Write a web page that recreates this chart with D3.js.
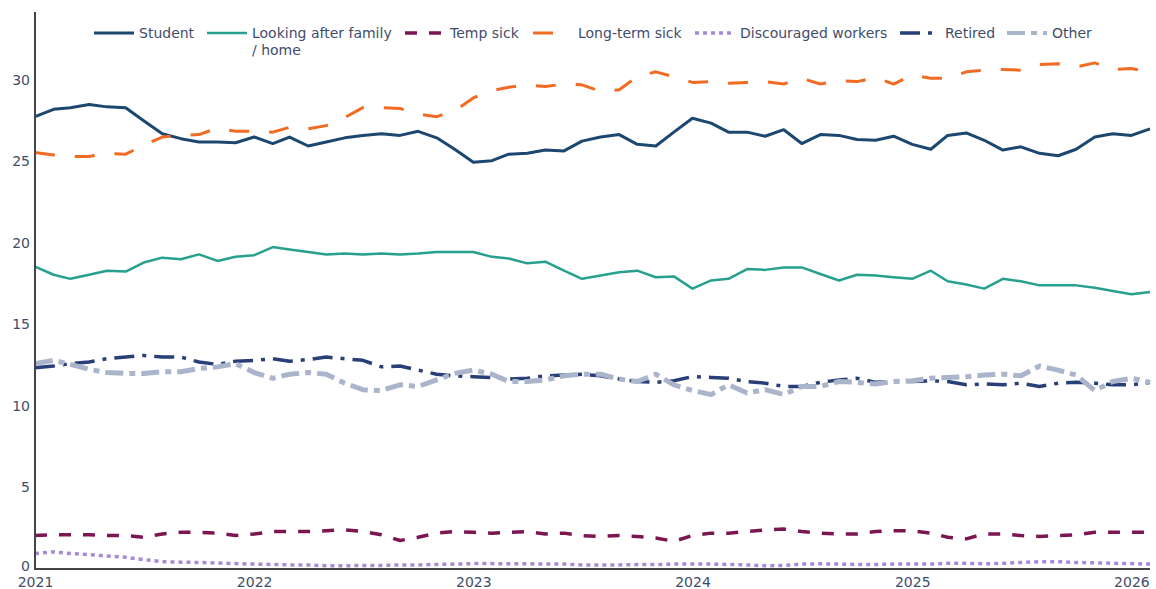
<!DOCTYPE html>
<html>
<head>
<meta charset="utf-8">
<script src="https://cdn.jsdelivr.net/npm/d3@7"></script>
<style>
  body { margin: 0; background: #fff; }
  svg { display: block; font-family: "DejaVu Sans", Verdana, sans-serif; }
</style>
</head>
<body>
<svg id="chart" width="1156" height="589"></svg>
<script>
/** Monthly observations, Jan 2021 .. Feb 2026 (62 months) */
var months = d3.timeMonth.range(new Date(2021, 0, 1), new Date(2026, 2, 1));

/** Series values (%), one per month */
var student = [
  27.75, 28.2, 28.3, 28.5, 28.35, 28.3, 27.5, 26.7, 26.4, 26.2, 26.2, 26.15,
  26.5, 26.1, 26.5, 25.95, 26.2, 26.45, 26.6, 26.7, 26.6, 26.85, 26.45, 25.75,
  24.95, 25.05, 25.45, 25.5, 25.7, 25.65, 26.25, 26.5, 26.65, 26.05, 25.95, 26.8,
  27.65, 27.35, 26.8, 26.8, 26.55, 26.95, 26.1, 26.65, 26.6, 26.35, 26.3, 26.55,
  26.05, 25.75, 26.6, 26.75, 26.3, 25.7, 25.9, 25.5, 25.35, 25.75, 26.5, 26.7,
  26.6, 27.0
];
var family = [
  18.55, 18.05, 17.8, 18.05, 18.3, 18.25, 18.8, 19.1, 19.0, 19.3, 18.9, 19.15,
  19.25, 19.75, 19.6, 19.45, 19.3, 19.35, 19.3, 19.35, 19.3, 19.35, 19.45, 19.45,
  19.45, 19.15, 19.05, 18.75, 18.85, 18.3, 17.8, 18.0, 18.2, 18.3, 17.9, 17.95,
  17.2, 17.7, 17.8, 18.4, 18.35, 18.5, 18.5, 18.1, 17.7, 18.05, 18.0, 17.9,
  17.8, 18.3, 17.65, 17.45, 17.2, 17.8, 17.65, 17.4, 17.4, 17.4, 17.25, 17.05,
  16.85, 17.0
];
var tempSick = [
  2.05, 2.1, 2.1, 2.1, 2.05, 2.05, 1.95, 2.15, 2.25, 2.25, 2.2, 2.05,
  2.15, 2.3, 2.3, 2.3, 2.35, 2.4, 2.3, 2.1, 1.75, 1.95, 2.2, 2.3,
  2.25, 2.2, 2.25, 2.3, 2.15, 2.2, 2.05, 2.0, 2.05, 2.0, 1.9, 1.7,
  2.05, 2.2, 2.2, 2.3, 2.4, 2.45, 2.3, 2.2, 2.15, 2.15, 2.3, 2.35,
  2.35, 2.2, 1.95, 1.85, 2.15, 2.15, 2.05, 2.0, 2.05, 2.1, 2.25, 2.25,
  2.25, 2.25
];
var longSick = [
  25.55, 25.4, 25.3, 25.3, 25.5, 25.45, 26.0, 26.5, 26.6, 26.65, 27.05, 26.85,
  26.85, 26.8, 27.1, 27.0, 27.2, 27.7, 28.3, 28.3, 28.25, 27.9, 27.75, 28.1,
  28.9, 29.35, 29.55, 29.7, 29.6, 29.75, 29.7, 29.3, 29.4, 30.2, 30.5, 30.2,
  29.85, 29.9, 29.8, 29.85, 29.9, 29.75, 30.1, 29.75, 29.95, 29.9, 30.15, 29.75,
  30.3, 30.1, 30.1, 30.5, 30.6, 30.65, 30.6, 30.95, 31.0, 30.8, 31.05, 30.65,
  30.7, 30.5
];
var discouraged = [
  0.95, 1.05, 0.95, 0.88, 0.8, 0.72, 0.58, 0.45, 0.42, 0.4, 0.37, 0.33,
  0.3, 0.28, 0.25, 0.25, 0.2, 0.2, 0.22, 0.22, 0.25, 0.25, 0.28, 0.3,
  0.33, 0.33, 0.32, 0.32, 0.3, 0.3, 0.25, 0.25, 0.25, 0.27, 0.27, 0.3,
  0.3, 0.3, 0.28, 0.25, 0.2, 0.22, 0.3, 0.32, 0.3, 0.28, 0.28, 0.3,
  0.3, 0.3, 0.35, 0.35, 0.32, 0.35, 0.4, 0.45, 0.45, 0.4, 0.38, 0.35,
  0.33, 0.3
];
var retired = [
  12.35, 12.45, 12.6, 12.7, 12.9, 13.0, 13.1, 13.0, 13.0, 12.7, 12.55, 12.75,
  12.8, 12.9, 12.75, 12.85, 13.0, 12.9, 12.8, 12.4, 12.45, 12.2, 11.95, 11.85,
  11.8, 11.75, 11.65, 11.7, 11.85, 11.9, 11.95, 11.85, 11.65, 11.5, 11.45, 11.55,
  11.8, 11.75, 11.7, 11.5, 11.4, 11.2, 11.2, 11.45, 11.6, 11.7, 11.45, 11.5,
  11.5, 11.55, 11.5, 11.3, 11.35, 11.3, 11.4, 11.2, 11.4, 11.45, 11.4, 11.3,
  11.3, 11.45
];
var other = [
  12.6, 12.8, 12.55, 12.25, 12.05, 12.0, 12.0, 12.1, 12.1, 12.3, 12.4, 12.6,
  12.05, 11.7, 11.95, 12.05, 11.95, 11.4, 11.0, 10.95, 11.3, 11.2, 11.6, 12.0,
  12.2, 11.95, 11.5, 11.5, 11.6, 11.85, 11.95, 11.95, 11.65, 11.5, 11.95, 11.3,
  10.95, 10.7, 11.3, 10.8, 11.0, 10.7, 11.2, 11.2, 11.5, 11.45, 11.35, 11.5,
  11.55, 11.7, 11.75, 11.8, 11.9, 11.95, 11.85, 12.45, 12.2, 11.9, 10.95, 11.5,
  11.7, 11.45
];

/** Series names, in legend order */
var seriesNames = ["Student", "Looking after family\n/ home", "Temp sick", "Long-term sick",
                   "Discouraged workers", "Retired", "Other"];
var seriesValues = [student, family, tempSick, longSick, discouraged, retired, other];

/** Styles per series */
var seriesColors = ["#1c476f", "#27a08e", "#7b1650", "#f26b22", "#a48bd8", "#283f78", "#aab4ca"];
var seriesWidths = [3, 2.5, 3.5, 3, 3.5, 3.5, 5];
var seriesDash = ["", "", "12,12", "20,20", "4,4", "20,8,4,8", "18,6,6,6"];
var legendX = [94, 207, 405, 533, 695, 900, 1007];

var yTicks = [0, 5, 10, 15, 20, 25, 30];

var margin = {left: 35, right: 1150, top: 12, bottom: 569};
var textColor = "#3f4d6b";

var svg = d3.select("#chart");

var x = d3.scaleTime()
    .domain([months[0], months[months.length - 1]])
    .range([margin.left, margin.right]);

var y = d3.scaleLinear()
    .domain([0, 34.17])
    .range([margin.bottom, margin.top]);

// lines
var line = d3.line()
    .x(function(d, i) { return x(months[i]); })
    .y(function(d) { return y(d); });

svg.append("g").selectAll("path")
  .data(seriesValues)
  .enter().append("path")
    .attr("d", line)
    .attr("fill", "none")
    .attr("stroke", function(d, i) { return seriesColors[i]; })
    .attr("stroke-width", function(d, i) { return seriesWidths[i]; })
    .attr("stroke-dasharray", function(d, i) { return seriesDash[i] || null; })
    .attr("stroke-linejoin", "round");

// axes
var xAxis = d3.axisBottom(x)
    .ticks(d3.timeYear.every(1))
    .tickFormat(d3.timeFormat("%Y"))
    .tickSize(0)
    .tickPadding(8);

var gx = svg.append("g")
    .attr("transform", "translate(0," + margin.bottom + ")")
    .call(xAxis);
gx.select(".domain").remove();
gx.selectAll("text")
    .attr("fill", textColor)
    .style("font-size", "14px")
    .style("font-family", "DejaVu Sans, sans-serif");

var yAxis = d3.axisLeft(y)
    .tickValues(yTicks)
    .tickSize(0)
    .tickPadding(5);

var gy = svg.append("g")
    .attr("transform", "translate(" + margin.left + ",0)")
    .call(yAxis);
gy.select(".domain").remove();
gy.selectAll("text")
    .attr("fill", textColor)
    .style("font-size", "14px")
    .style("font-family", "DejaVu Sans, sans-serif");
// the zero label sits a little above the baseline so it clears the year labels
gy.selectAll(".tick").filter(function(d) { return d == 0; })
    .select("text").attr("dy", "0.1em");

// axis lines
svg.append("line")
    .attr("x1", margin.left).attr("x2", margin.left)
    .attr("y1", margin.top).attr("y2", margin.bottom + 1)
    .attr("stroke", "#444").attr("stroke-width", 2);
svg.append("line")
    .attr("x1", margin.left - 1).attr("x2", margin.right)
    .attr("y1", margin.bottom).attr("y2", margin.bottom)
    .attr("stroke", "#444").attr("stroke-width", 2);

// legend
var legend = svg.append("g").selectAll("g")
  .data(seriesNames)
  .enter().append("g")
    .attr("transform", function(d, i) { return "translate(" + legendX[i] + ",33)"; });

legend.append("line")
    .attr("x1", 0).attr("x2", 40)
    .attr("y1", 0).attr("y2", 0)
    .attr("stroke", function(d, i) { return seriesColors[i]; })
    .attr("stroke-width", function(d, i) { return Math.min(seriesWidths[i], 4); })
    .attr("stroke-dasharray", function(d, i) { return seriesDash[i] || null; });

legend.append("text")
    .attr("x", 45)
    .attr("fill", textColor)
    .style("font-size", "14px")
    .selectAll("tspan")
    .data(function(d) { return d.split("\n"); })
    .enter().append("tspan")
      .attr("x", 45)
      .attr("dy", function(d, i) { return i == 0 ? "0.35em" : "1.2em"; })
      .text(function(d) { return d; });
</script>
</body>
</html>
